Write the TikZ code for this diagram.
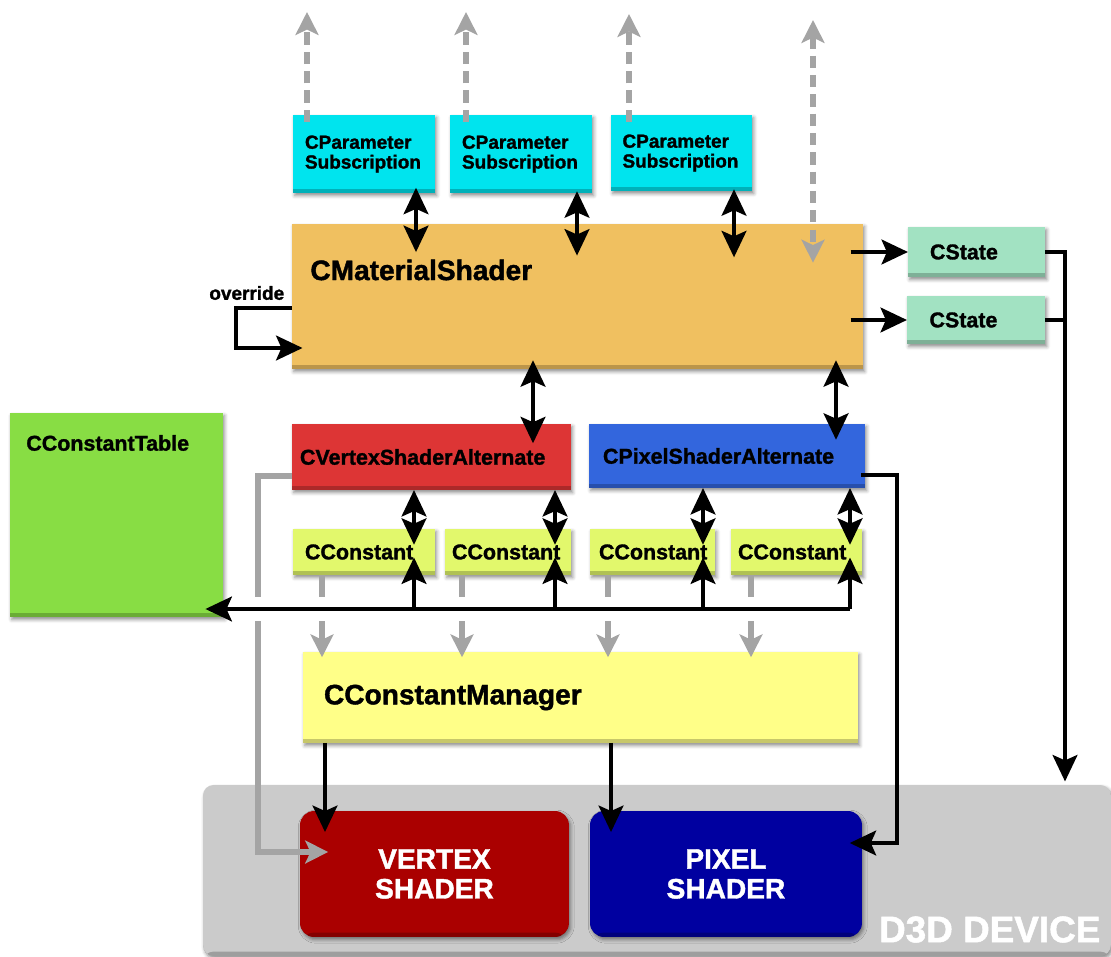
\documentclass[tikz,border=0pt]{standalone}
\usepackage{fontspec}
\setmainfont{Liberation Sans}[BoldFeatures={FakeBold=1.4}]
\usepackage{tikz}
\usetikzlibrary{shadows.blur,arrows.meta}

\definecolor{paramcyan}{HTML}{00E4EE}
\definecolor{shaderorange}{HTML}{F0C060}
\definecolor{statemint}{HTML}{A2E2C2}
\definecolor{tablegreen}{HTML}{88DD44}
\definecolor{vertred}{HTML}{DD3535}
\definecolor{pixblue}{HTML}{3366DD}
\definecolor{constlime}{HTML}{E2F86C}
\definecolor{managerylw}{HTML}{FFFF88}
\definecolor{devgray}{HTML}{CBCBCB}
\definecolor{vsred}{HTML}{AA0000}
\definecolor{psblue}{HTML}{0000A0}
\definecolor{arrowgray}{HTML}{A4A4A4}

\tikzset{
  box/.style={anchor=north west, inner sep=0pt, outer sep=0pt, align=left,
    blur shadow={shadow xshift=1pt, shadow yshift=-1.5pt, shadow blur radius=2pt, shadow opacity=45},
    path picture={\fill[black, opacity=0.22] (path picture bounding box.south west)
      rectangle ([yshift=2.5pt]path picture bounding box.south east);}},
  hw/.style={box, rounded corners=8pt, align=center, text=white,
    minimum height=2.52cm, font=\bfseries\fontsize{16}{17}\selectfont},
  tsmall/.style={font=\bfseries\fontsize{10.8}{11.3}\selectfont},
  tmid/.style={font=\bfseries\fontsize{12.2}{14}\selectfont},
  tbig/.style={font=\bfseries\fontsize{16}{18}\selectfont},
  wire/.style={line width=2.6pt, line join=miter},
  link/.style={wire, -{Stealth[length=15pt,width=14pt,inset=3pt]}},
  both/.style={wire, {Stealth[length=15pt,width=14pt,inset=3pt]}-{Stealth[length=15pt,width=14pt,inset=3pt]}},
  gwire/.style={line width=3pt, draw=arrowgray},
  glink/.style={gwire, -{Stealth[length=13pt,width=13pt,inset=3pt]}, arrowgray},
  gdash/.style={glink, dash pattern=on 7pt off 4pt},
  gboth/.style={gdash, {Stealth[length=13pt,width=13pt,inset=3pt]}-{Stealth[length=13pt,width=13pt,inset=3pt]}}
}

\begin{document}
\begin{tikzpicture}[x=0.02cm, y=-0.02cm]
  \useasboundingbox (0,0) rectangle (1111,956);

  % D3D device
  \node[box, fill=devgray, rounded corners=6pt, minimum width=18.16cm, minimum height=3.42cm] (d3d) at (203,785) {};
  \node[anchor=south east, inner sep=0pt, text=white, font=\bfseries\fontsize{21}{21}\selectfont]
    (devname) at ([shift={(-10,-13)}]d3d.south east) {D3D DEVICE};
  \node[hw, fill=vsred, minimum width=5.38cm] (vs) at (300,811) {VERTEX\\SHADER};
  \node[hw, fill=psblue, minimum width=5.44cm] (pxs) at (590,811) {PIXEL\\SHADER};

  % Parameter subscriptions
  \node[box, tsmall, fill=paramcyan, minimum width=2.84cm, minimum height=1.56cm, text width=2.36cm] (ps1) at (293,115) {CParameter\\Subscription};
  \node[box, tsmall, fill=paramcyan, minimum width=2.84cm, minimum height=1.56cm, text width=2.36cm] (ps2) at (450,115) {CParameter\\Subscription};
  \node[box, tsmall, fill=paramcyan, minimum width=2.82cm, minimum height=1.52cm, text width=2.36cm] (ps3) at (611,115) {CParameter\\Subscription};

  % Material shader and states
  \node[box, fill=shaderorange, minimum width=11.42cm, minimum height=2.9cm] (cms) at (292,224) {};
  \node[anchor=west, inner sep=0pt, tbig] (cmsname) at ([shift={(18,46)}]cms.north west) {CMaterialShader};
  \node[box, tmid, fill=statemint, minimum width=2.74cm, minimum height=1.0cm, text width=1.86cm] (st1) at (908,227) {CState};
  \node[box, tmid, fill=statemint, minimum width=2.76cm, minimum height=0.96cm, text width=1.86cm] (st2) at (907,296) {CState};

  % Alternates, constants, table, manager
  \node[box, fill=tablegreen, minimum width=4.26cm, minimum height=4.08cm] (ctab) at (10,413) {};
  \node[anchor=west, inner sep=0pt, tmid] (ctabname) at ([shift={(16,30)}]ctab.north west) {CConstantTable};
  \node[box, tmid, fill=vertred, minimum width=5.58cm, minimum height=1.32cm, text width=5.26cm] (valt) at (292,424) {CVertexShaderAlternate};
  \node[box, tmid, fill=pixblue, minimum width=5.52cm, minimum height=1.28cm, text width=4.96cm] (palt) at (589,424) {CPixelShaderAlternate};
  \node[box, tmid, fill=constlime, minimum width=2.84cm, minimum height=0.92cm, text width=2.36cm] (cc1) at (293,529) {CConstant};
  \node[box, tmid, fill=constlime, minimum width=2.52cm, minimum height=0.92cm, text width=2.24cm] (cc2) at (445,529) {CConstant};
  \node[box, tmid, fill=constlime, minimum width=2.50cm, minimum height=0.92cm, text width=2.14cm] (cc3) at (590,529) {CConstant};
  \node[box, tmid, fill=constlime, minimum width=2.62cm, minimum height=0.92cm, text width=2.34cm] (cc4) at (731,529) {CConstant};
  \node[box, tbig, fill=managerylw, minimum width=11.1cm, minimum height=1.82cm, text width=10.26cm] (ccm) at (303,652) {CConstantManager};

  % Subscriptions up and down
  \coordinate (up1) at (307,12);
  \coordinate (up2) at (466,12);
  \coordinate (up3) at (629,14);
  \coordinate (up4) at (813,20);
  \draw[gdash, shorten <=-4pt] (ps1.north -| up1) -- (up1);
  \draw[gdash, shorten <=-4pt] (ps2.north -| up2) -- (up2);
  \draw[gdash, shorten <=-4pt] (ps3.north -| up3) -- (up3);
  \draw[gboth, shorten >=-22pt] (up4) -- (cms.north -| up4);
  \draw[both, shorten <=-3pt, shorten >=-16pt] (ps1.south -| 416,0) -- (cms.north -| 416,0);
  \draw[both, shorten <=-1pt, shorten >=-18pt] (ps2.south -| 577,0) -- (cms.north -| 577,0);
  \draw[both, shorten <=-1pt, shorten >=-19pt] (ps3.south -| 734,0) -- (cms.north -| 734,0);

  % override loop
  \node[anchor=west, inner sep=0pt, tsmall] (ovr) at (209,293) {override};
  \draw[link, shorten >=-6pt] (cms.west |- 0,308) -- (236,308) -- (236,348) -- (cms.west |- 0,348);

  % States
  \draw[link, shorten <=-7pt] (cms.east |- st1.west) -- (st1.west);
  \draw[link, shorten <=-7pt] (cms.east |- st2.west) -- (st2.west);
  \draw[link] (st1.east) -- (st1.east -| 1065,0) -- ([yshift=2pt]d3d.north -| 1065,0);
  \draw[wire] (st2.east) -- (st2.east -| 1065,0);

  % Material shader to alternates
  \draw[both, shorten <=-5pt, shorten >=-11pt] (cms.south -| 533,0) -- (valt.north -| 533,0);
  \draw[both, shorten <=-5pt, shorten >=-9pt] (cms.south -| 836,0) -- (palt.north -| 836,0);

  % Alternates to constants
  \draw[both, shorten >=-9pt] (valt.south -| 414,0) -- (cc1.north -| 414,0);
  \draw[both, shorten >=-9pt] (valt.south -| 555,0) -- (cc2.north -| 555,0);
  \draw[both, shorten >=-9pt] (palt.south -| 703,0) -- (cc3.north -| 703,0);
  \draw[both, shorten >=-9pt] (palt.south -| 850,0) -- (cc4.north -| 850,0);

  % Constant bus to table
  \coordinate (b1) at (414,609);
  \coordinate (b2) at (555,609);
  \coordinate (b3) at (703,609);
  \coordinate (b4) at (850,609);
  \draw[link, shorten >=-10pt] (b4) -- (ctab.east |- b4);
  \draw[link, shorten >=-10pt] (b1) -- (cc1.south -| b1);
  \draw[link, shorten >=-10pt] (b2) -- (cc2.south -| b2);
  \draw[link, shorten >=-10pt] (b3) -- (cc3.south -| b3);
  \draw[link, shorten >=-10pt] (b4) -- (cc4.south -| b4);

  % Constants to manager
  \draw[gwire] (cc1.south -| 322,0) -- (322,597);
  \draw[gwire] (cc2.south -| 462,0) -- (462,597);
  \draw[gwire] (cc3.south -| 608,0) -- (608,597);
  \draw[gwire] (cc4.south -| 751,0) -- (751,597);
  \draw[glink, shorten >=-3pt] (322,621) -- (ccm.north -| 322,0);
  \draw[glink, shorten >=-3pt] (462,621) -- (ccm.north -| 462,0);
  \draw[glink, shorten >=-3pt] (608,621) -- (ccm.north -| 608,0);
  \draw[glink, shorten >=-3pt] (751,621) -- (ccm.north -| 751,0);

  % To the hardware shaders
  \draw[link, shorten >=-12pt] (ccm.south -| 325,0) -- (vs.north -| 325,0);
  \draw[link, shorten >=-12pt] (ccm.south -| 611,0) -- (pxs.north -| 611,0);
  \draw[gwire] (valt.west |- 0,476) -- (258,476) -- (258,597);
  \draw[glink, shorten >=-16pt] (258,621) -- (258,852) -- (vs.west |- 0,852);
  \draw[link, shorten <=-2pt, shorten >=-7pt] (palt.east |- 0,475) -- (897,475) -- (897,843) -- (pxs.east |- 0,843);
\end{tikzpicture}
\end{document}
